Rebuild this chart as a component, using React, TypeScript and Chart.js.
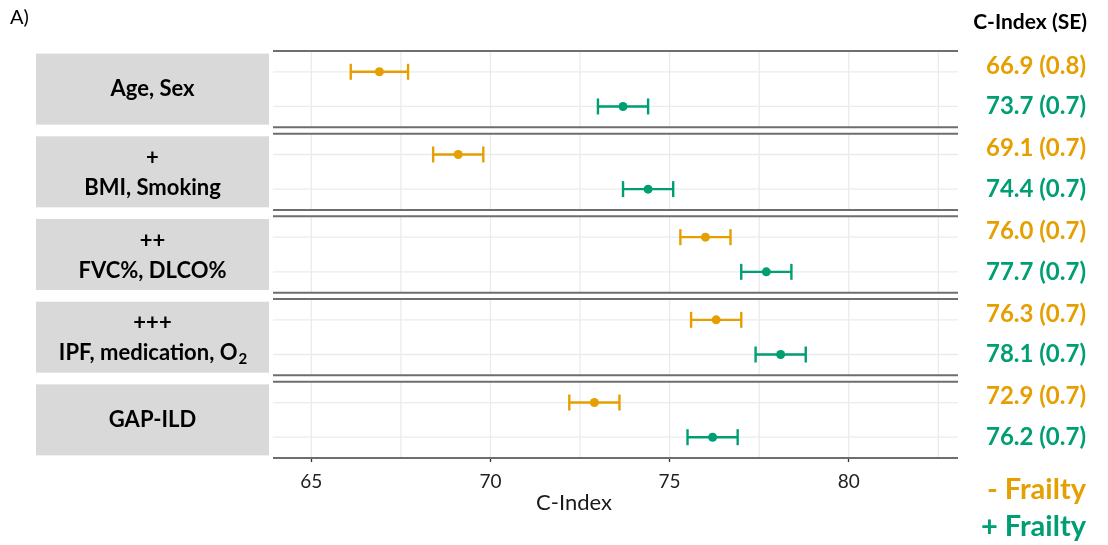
import React, { useEffect, useRef } from "react";
import { Chart, registerables } from "chart.js";

Chart.register(...registerables);

// ---- data ----
const modelLabels: string[][] = [
  ["Age, Sex"],
  ["+", "BMI, Smoking"],
  ["++", "FVC%, DLCO%"],
  ["+++", "IPF, medication, O_2"],
  ["GAP-ILD"],
];
const cIndexNoFrailty = [66.9, 69.1, 76.0, 76.3, 72.9];
const seNoFrailty = [0.8, 0.7, 0.7, 0.7, 0.7];
const cIndexFrailty = [73.7, 74.4, 77.7, 78.1, 76.2];
const seFrailty = [0.7, 0.7, 0.7, 0.7, 0.7];
const majorTicks = [65, 70, 75, 80];
const minorGrid = [67.5, 72.5, 77.5, 82.5];
const seriesNames = ["- Frailty", "+ Frailty"];
const headerText = "C-Index (SE)";
const axisTitle = "C-Index";
const panelTag = "A)";

const ORANGE = "#E69F00";
const GREEN = "#009E73";
const FONT = "Lato, 'Open Sans', sans-serif";
const P = 2.385; // facet period in y units (2.2 facet + gap)

const rowY = (i: number, r: number) => i * P + r + 1;

function drawLabelLine(ctx: CanvasRenderingContext2D, text: string, cx: number, cy: number, size: number) {
  const parts = text.split("_");
  ctx.textBaseline = "middle";
  ctx.textAlign = "left";
  ctx.font = `bold ${size}px ${FONT}`;
  const w1 = ctx.measureText(parts[0]).width;
  let w2 = 0;
  if (parts[1]) {
    ctx.font = `bold ${Math.round(size * 0.68)}px ${FONT}`;
    w2 = ctx.measureText(parts[1]).width;
  }
  const start = cx - (w1 + w2) / 2;
  ctx.font = `bold ${size}px ${FONT}`;
  ctx.fillText(parts[0], start, cy);
  if (parts[1]) {
    ctx.font = `bold ${Math.round(size * 0.68)}px ${FONT}`;
    ctx.fillText(parts[1], start + w1 + 1, cy + 6);
  }
}

const facetPlugin = {
  id: "facets",
  beforeDatasetsDraw(chart: any) {
    const { ctx, chartArea: ca, scales } = chart;
    const x = scales.x;
    const y = scales.y;
    ctx.save();
    for (let i = 0; i < modelLabels.length; i++) {
      const top = y.getPixelForValue(i * P + 0.4);
      const bot = y.getPixelForValue(i * P + 2.6);
      ctx.strokeStyle = "#ebebeb";
      ctx.lineWidth = 1.3;
      [...majorTicks, ...minorGrid].forEach((v) => {
        const px = x.getPixelForValue(v);
        ctx.beginPath();
        ctx.moveTo(px, top);
        ctx.lineTo(px, bot);
        ctx.stroke();
      });
      [0, 1].forEach((r) => {
        const py = y.getPixelForValue(rowY(i, r));
        ctx.beginPath();
        ctx.moveTo(ca.left, py);
        ctx.lineTo(ca.right, py);
        ctx.stroke();
      });
      ctx.strokeStyle = "#6e6e6e";
      ctx.lineWidth = 2;
      [top, bot].forEach((py) => {
        ctx.beginPath();
        ctx.moveTo(ca.left, py);
        ctx.lineTo(ca.right, py);
        ctx.stroke();
      });
      // strip
      const mid = (top + bot) / 2;
      ctx.fillStyle = "#d9d9d9";
      ctx.fillRect(36, mid - 35.5, 233, 71);
      ctx.fillStyle = "#000";
      const lines = modelLabels[i];
      const cx = 152.5;
      if (lines.length === 1) {
        drawLabelLine(ctx, lines[0], cx, mid, 22);
      } else {
        drawLabelLine(ctx, lines[0], cx, mid - 14, 22);
        drawLabelLine(ctx, lines[1], cx, mid + 16, 22);
      }
    }
    ctx.restore();
  },
  afterDraw(chart: any) {
    const { ctx, scales } = chart;
    const y = scales.y;
    ctx.save();
    ctx.textBaseline = "middle";
    // panel tag
    ctx.textAlign = "left";
    ctx.fillStyle = "#000";
    ctx.font = `20px ${FONT}`;
    ctx.fillText(panelTag, 10, 18);
    // axis title
    ctx.textAlign = "center";
    ctx.fillStyle = "#1a1a1a";
    ctx.font = `22px ${FONT}`;
    ctx.fillText(axisTitle, 574, 503);
    // header
    ctx.textAlign = "right";
    ctx.fillStyle = "#000";
    ctx.font = `bold 21px ${FONT}`;
    ctx.fillText(headerText, 1087, 22);
    // values
    ctx.font = `bold 24px ${FONT}`;
    for (let i = 0; i < modelLabels.length; i++) {
      ctx.fillStyle = ORANGE;
      ctx.fillText(`${cIndexNoFrailty[i].toFixed(1)} (${seNoFrailty[i].toFixed(1)})`, 1086, y.getPixelForValue(rowY(i, 0)) - 6);
      ctx.fillStyle = GREEN;
      ctx.fillText(`${cIndexFrailty[i].toFixed(1)} (${seFrailty[i].toFixed(1)})`, 1086, y.getPixelForValue(rowY(i, 1)));
    }
    // legend
    ctx.font = `bold 29px ${FONT}`;
    ctx.fillStyle = ORANGE;
    ctx.fillText(seriesNames[0], 1086, 490);
    ctx.fillStyle = GREEN;
    ctx.fillText(seriesNames[1], 1086, 527);
    ctx.restore();
  },
};

function errorDatasets(values: number[], se: number[], color: string, r: number) {
  return values.map((v, i) => ({
    type: "scatter" as const,
    showLine: true,
    data: [
      { x: v - se[i], y: rowY(i, r) },
      { x: v + se[i], y: rowY(i, r) },
    ],
    borderColor: color,
    borderWidth: 2.4,
    pointStyle: "line" as const,
    rotation: 90,
    pointRadius: 8,
    pointBorderWidth: 2.4,
    pointBorderColor: color,
    pointBackgroundColor: color,
  }));
}

export default function App() {
  const ref = useRef<HTMLCanvasElement>(null);
  useEffect(() => {
    if (!ref.current) return;
    const datasets: any[] = [
      ...errorDatasets(cIndexNoFrailty, seNoFrailty, ORANGE, 0),
      ...errorDatasets(cIndexFrailty, seFrailty, GREEN, 1),
      {
        type: "scatter",
        data: cIndexNoFrailty.map((v, i) => ({ x: v, y: rowY(i, 0) })),
        backgroundColor: ORANGE,
        borderColor: ORANGE,
        pointRadius: 4.5,
        borderWidth: 0,
      },
      {
        type: "scatter",
        data: cIndexFrailty.map((v, i) => ({ x: v, y: rowY(i, 1) })),
        backgroundColor: GREEN,
        borderColor: GREEN,
        pointRadius: 4.5,
        borderWidth: 0,
      },
    ];
    const chart = new Chart(ref.current, {
      type: "scatter",
      data: { datasets },
      options: {
        animation: false,
        responsive: true,
        maintainAspectRatio: false,
        layout: { padding: { left: 273, right: 150, top: 51, bottom: 0 } },
        plugins: { legend: { display: false }, tooltip: { enabled: false } },
        scales: {
          x: {
            type: "linear",
            min: 63.93,
            max: 83.05,
            afterBuildTicks: (scale: any) => {
              scale.ticks = majorTicks.map((v) => ({ value: v }));
            },
            afterFit: (scale: any) => {
              scale.height = 87;
            },
            grid: {
              drawOnChartArea: false,
              drawTicks: true,
              tickLength: 4,
              tickColor: "#333",
              tickWidth: 1.3,
            },
            border: { display: false },
            ticks: {
              padding: 8,
              color: "#222",
              font: { family: FONT, size: 19 },
              maxRotation: 0,
            },
          },
          y: {
            type: "linear",
            min: 0.4,
            max: 4 * P + 2.6,
            reverse: true,
            display: false,
          },
        },
      },
      plugins: [facetPlugin],
    });
    return () => chart.destroy();
  }, []);
  return (
    <div style={{ position: "absolute", left: 0, top: 0, width: 1108, height: 545, background: "#fff" }}>
      <canvas ref={ref} />
    </div>
  );
}
